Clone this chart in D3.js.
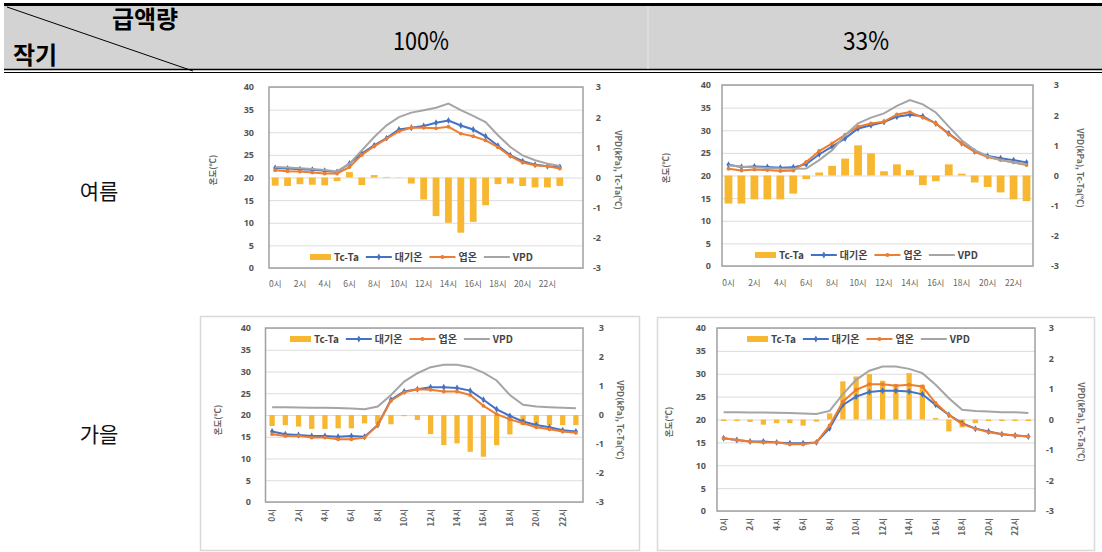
<!DOCTYPE html>
<html>
<head>
<meta charset="utf-8">
<script src="https://cdn.jsdelivr.net/npm/d3@7/dist/d3.min.js"></script>
<style>
  body { margin: 0; background: #fff; }
  svg { display: block; }
</style>
</head>
<body>
<svg id="chart" width="1102" height="552"></svg>
<script>
// categories and tick labels
const hours = ["0시","1시","2시","3시","4시","5시","6시","7시","8시","9시","10시","11시",
               "12시","13시","14시","15시","16시","17시","18시","19시","20시","21시","22시","23시"];
const leftTicks = [0, 5, 10, 15, 20, 25, 30, 35, 40];
const rightTicks = [-3, -2, -1, 0, 1, 2, 3];
const seriesNames = ["Tc-Ta", "대기온", "엽온", "VPD"];
const colHeaders = ["100%", "33%"];
const rowHeaders = ["여름", "가을"];
const leftTitle = "온도(℃)";
const rightTitle = "VPD(kPa), Tc-Ta(℃)";

// 여름 100%
const summer100Tcta = [-0.27,-0.28,-0.22,-0.24,-0.26,-0.12,0.18,-0.25,0.08,0.02,0.01,-0.2,-0.73,-1.28,-1.5,-1.83,-1.47,-0.92,-0.22,-0.2,-0.28,-0.33,-0.33,-0.28];
const summer100Air  = [22.1,22.0,21.8,21.7,21.5,21.2,23.1,25.3,27.1,28.7,30.6,31.0,31.4,32.1,32.6,31.5,30.6,29.1,27.0,24.9,23.6,22.8,22.5,22.3];
const summer100Leaf = [21.6,21.4,21.3,21.1,20.9,20.9,22.3,25.0,26.9,28.6,30.2,31.0,31.0,30.9,31.2,29.7,29.1,28.2,26.7,24.7,23.3,22.7,22.5,22.0];
const summer100Vpd  = [0.35,0.33,0.31,0.28,0.25,0.2,0.46,0.9,1.34,1.73,2.0,2.15,2.23,2.31,2.45,2.23,2.04,1.84,1.4,1.01,0.73,0.57,0.46,0.38];

// 여름 33%
const summer33Tcta = [-0.93,-0.93,-0.79,-0.79,-0.79,-0.6,-0.12,0.1,0.32,0.56,1.0,0.73,0.14,0.37,0.18,-0.32,-0.19,0.37,0.06,-0.23,-0.38,-0.56,-0.79,-0.85];
const summer33Air  = [22.4,21.9,22.0,21.9,21.7,21.8,22.5,24.7,26.4,28.2,30.4,31.1,31.8,33.0,33.4,33.1,31.5,29.3,27.1,25.3,24.3,23.8,23.4,22.9];
const summer33Leaf = [21.5,21.1,21.3,21.2,21.0,21.1,23.0,25.4,27.1,29.0,30.8,31.5,31.9,33.5,34.0,32.8,31.5,29.1,27.1,25.2,24.1,23.4,22.9,22.3];
const summer33Vpd  = [0.34,0.29,0.27,0.25,0.23,0.22,0.23,0.51,0.84,1.34,1.73,1.92,2.06,2.31,2.5,2.36,2.09,1.62,1.17,0.84,0.64,0.51,0.43,0.37];

// 가을 100%
const autumn100Tcta = [-0.38,-0.35,-0.4,-0.48,-0.48,-0.46,-0.46,-0.29,-0.3,-0.32,-0.04,-0.17,-0.66,-1.04,-0.98,-1.27,-1.44,-1.04,-0.67,-0.35,-0.35,-0.35,-0.35,-0.35];
const autumn100Air  = [16.2,15.6,15.4,15.2,15.2,15.0,15.2,15.0,17.7,23.5,25.4,25.9,26.4,26.4,26.2,25.6,23.5,21.3,19.8,18.5,17.7,17.2,16.5,16.2];
const autumn100Leaf = [15.6,15.2,15.2,14.8,14.8,14.4,14.4,14.8,17.7,23.3,25.2,25.9,25.8,25.4,25.4,24.6,22.1,20.2,19.0,18.1,17.2,16.7,16.2,15.9];
const autumn100Vpd  = [0.27,0.27,0.26,0.25,0.25,0.24,0.22,0.2,0.29,0.69,1.15,1.44,1.65,1.73,1.73,1.65,1.46,1.19,0.69,0.35,0.29,0.27,0.25,0.23];

// 가을 33%
const autumn33Tcta = [-0.05,-0.05,-0.08,-0.17,-0.12,-0.12,-0.2,-0.07,0.2,1.25,1.41,1.49,1.27,1.16,1.52,1.14,0.05,-0.39,-0.26,-0.12,-0.05,-0.05,-0.05,-0.05];
const autumn33Air  = [15.9,15.5,15.2,15.2,15.0,14.8,14.8,15.0,18.1,23.2,25.0,26.0,26.3,26.3,26.1,25.5,23.2,21.0,19.2,18.0,17.4,16.8,16.5,16.3];
const autumn33Leaf = [15.9,15.5,15.2,15.0,15.0,14.6,14.6,15.0,18.7,23.9,26.5,27.7,27.7,27.4,27.6,27.2,23.6,21.0,19.0,18.0,17.2,16.8,16.5,16.3];
const autumn33Vpd  = [0.24,0.24,0.23,0.23,0.22,0.21,0.2,0.18,0.28,0.83,1.3,1.6,1.74,1.74,1.66,1.52,1.14,0.7,0.32,0.28,0.26,0.24,0.24,0.21];

const BAR = "#f7b731", AIR = "#4472c4", LEAF = "#ed7d31", VPD = "#a5a5a5";
const FONT = "'Noto Sans CJK KR', 'Open Sans', sans-serif";

const svg = d3.select("#chart");

// ---- table header ----
svg.append("rect").attr("x", 4).attr("y", 5).attr("width", 1098).attr("height", 64).attr("fill", "#d3d3d3");
svg.append("rect").attr("x", 4).attr("y", 3).attr("width", 1098).attr("height", 3).attr("fill", "#000");
svg.append("line").attr("x1", 4).attr("x2", 1102).attr("y1", 69.5).attr("y2", 69.5).attr("stroke", "#000").attr("stroke-width", 1.5);
svg.append("line").attr("x1", 4).attr("x2", 1102).attr("y1", 72.5).attr("y2", 72.5).attr("stroke", "#000").attr("stroke-width", 1);
svg.append("line").attr("x1", 7).attr("y1", 7).attr("x2", 193).attr("y2", 71).attr("stroke", "#000").attr("stroke-width", 1);
svg.append("line").attr("x1", 648).attr("x2", 648).attr("y1", 6).attr("y2", 69).attr("stroke", "#e6e6e6").attr("stroke-width", 1);

svg.append("text").attr("x", 145).attr("y", 28).attr("text-anchor", "middle")
  .attr("font-family", FONT).attr("font-weight", 700).attr("font-size", 24).text("급액량");
svg.append("text").attr("x", 35).attr("y", 64).attr("text-anchor", "middle")
  .attr("font-family", FONT).attr("font-weight", 700).attr("font-size", 24).text("작기");
svg.selectAll(".colhead").data(colHeaders).join("text")
  .attr("class", "colhead")
  .attr("x", (d, i) => [421, 866][i]).attr("y", 50).attr("text-anchor", "middle")
  .attr("font-family", FONT).attr("font-size", 25)
  .attr("textLength", (d, i) => [56, 46][i]).attr("lengthAdjust", "spacingAndGlyphs")
  .text(d => d);
svg.selectAll(".rowhead").data(rowHeaders).join("text")
  .attr("class", "rowhead")
  .attr("x", 99).attr("y", (d, i) => [199, 442][i]).attr("text-anchor", "middle")
  .attr("font-family", FONT).attr("font-size", 21).attr("fill", "#111")
  .text(d => d);

// ---- panel layout ----
const panels = [
  { tcta: summer100Tcta, air: summer100Air, leaf: summer100Leaf, vpd: summer100Vpd,
    l: 269, r: 583, t: 87, b: 268, bandEnd: 566, barFrac: 0.55,
    leftLabelX: 254, rightLabelX: 601, leftTitleX: 216, rightTitleX: 615, titleMid: 170,
    xLabelY: 281, rotate: false, legendX: 310, legendY: 257, box: null },
  { tcta: summer33Tcta, air: summer33Air, leaf: summer33Leaf, vpd: summer33Vpd,
    l: 722, r: 1033, t: 85, b: 266, bandEnd: 1033, barFrac: 0.6,
    leftLabelX: 711, rightLabelX: 1059, leftTitleX: 669, rightTitleX: 1077, titleMid: 168,
    xLabelY: 280, rotate: false, legendX: 755, legendY: 255, box: null },
  { tcta: autumn100Tcta, air: autumn100Air, leaf: autumn100Leaf, vpd: autumn100Vpd,
    l: 265.5, r: 583, t: 328, b: 502, bandEnd: 582.5, barFrac: 0.4,
    leftLabelX: 251, rightLabelX: 604, leftTitleX: 221, rightTitleX: 617, titleMid: 420,
    xLabelY: 509, rotate: true, legendX: 290, legendY: 339, box: [200, 316, 439, 234] },
  { tcta: autumn33Tcta, air: autumn33Air, leaf: autumn33Leaf, vpd: autumn33Vpd,
    l: 717, r: 1035, t: 328, b: 511, bandEnd: 1035, barFrac: 0.4,
    leftLabelX: 706, rightLabelX: 1054, leftTitleX: 672, rightTitleX: 1078, titleMid: 422,
    xLabelY: 518, rotate: true, legendX: 747, legendY: 339, box: [657, 317, 437, 233] }
];

function drawPanel(p) {
  const g = svg.append("g");
  if (p.box) {
    g.append("rect").attr("x", p.box[0] + 0.5).attr("y", p.box[1] + 0.5)
      .attr("width", p.box[2]).attr("height", p.box[3])
      .attr("fill", "#fff").attr("stroke", "#d9d9d9").attr("stroke-width", 1.5);
  }
  const x = d3.scaleBand().domain(hours).range([p.l, p.bandEnd]);
  const yL = d3.scaleLinear().domain([0, 40]).range([p.b, p.t]);
  const yR = d3.scaleLinear().domain([-3, 3]).range([p.b, p.t]);
  const cx = (d, i) => x(hours[i]) + x.bandwidth() / 2;

  // gridlines
  g.append("g").attr("transform", `translate(${p.l},0)`)
    .call(d3.axisLeft(yL).tickValues(leftTicks).tickSize(-(p.r - p.l)).tickFormat(""))
    .call(a => a.select(".domain").remove())
    .selectAll("line").attr("stroke", "#dcdcdc").attr("stroke-width", 1);

  g.append("rect").attr("x", p.l).attr("y", p.t).attr("width", p.r - p.l).attr("height", p.b - p.t)
    .attr("fill", "none").attr("stroke", "#a0a0a0").attr("stroke-width", 1.5);

  // left axis labels
  g.append("g").attr("transform", `translate(${p.leftLabelX},0)`)
    .call(d3.axisLeft(yL).tickValues(leftTicks).tickSize(0).tickPadding(0))
    .call(a => a.select(".domain").remove())
    .selectAll("text").attr("font-family", "'Open Sans', sans-serif").attr("font-size", 9)
    .attr("font-weight", 700).attr("fill", "#555");

  // right axis labels
  g.append("g").attr("transform", `translate(${p.rightLabelX},0)`)
    .call(d3.axisRight(yR).tickValues(rightTicks).tickFormat(d => String(d)).tickSize(0).tickPadding(0))
    .call(a => a.select(".domain").remove())
    .selectAll("text").attr("text-anchor", "end").attr("font-family", "'Open Sans', sans-serif")
    .attr("font-size", 9).attr("font-weight", 700).attr("fill", "#555");

  // axis titles
  g.append("text").attr("transform", `translate(${p.leftTitleX},${p.titleMid}) rotate(-90)`)
    .attr("text-anchor", "middle").attr("font-family", FONT).attr("font-size", 8.5)
    .attr("font-weight", 700).attr("fill", "#666").text(leftTitle);
  g.append("text").attr("transform", `translate(${p.rightTitleX},${p.titleMid}) rotate(90)`)
    .attr("text-anchor", "middle").attr("font-family", FONT).attr("font-size", 8.5)
    .attr("font-weight", 700).attr("fill", "#666").text(rightTitle);

  // Tc-Ta bars on the right axis
  const bw = x.bandwidth() * p.barFrac;
  g.append("g").selectAll("rect").data(p.tcta).join("rect")
    .attr("x", (d, i) => cx(d, i) - bw / 2)
    .attr("width", bw)
    .attr("y", d => yR(Math.max(0, d)))
    .attr("height", d => Math.abs(yR(d) - yR(0)))
    .attr("fill", BAR);

  // lines
  const lineL = d3.line().x(cx).y(d => yL(d));
  const lineR = d3.line().x(cx).y(d => yR(d));
  g.append("path").datum(p.air).attr("d", lineL).attr("fill", "none").attr("stroke", AIR).attr("stroke-width", 2);
  g.append("g").selectAll("path").data(p.air).join("path")
    .attr("transform", (d, i) => `translate(${cx(d, i)},${yL(d)})`)
    .attr("d", d3.symbol(d3.symbolDiamond, 14)).attr("fill", AIR);
  g.append("path").datum(p.leaf).attr("d", lineL).attr("fill", "none").attr("stroke", LEAF).attr("stroke-width", 2);
  g.append("g").selectAll("path").data(p.leaf).join("path")
    .attr("transform", (d, i) => `translate(${cx(d, i)},${yL(d)})`)
    .attr("d", d3.symbol(d3.symbolCircle, 12)).attr("fill", LEAF);
  g.append("path").datum(p.vpd).attr("d", lineR).attr("fill", "none").attr("stroke", VPD).attr("stroke-width", 2);

  // x axis labels
  const xa = g.append("g").attr("transform", `translate(0,${p.xLabelY})`)
    .call(d3.axisBottom(x).tickValues(hours.filter((d, i) => i % 2 === 0)).tickSize(0).tickPadding(0))
    .call(a => a.select(".domain").remove());
  const xt = xa.selectAll("text").attr("font-family", FONT).attr("fill", "#666");
  if (p.rotate) {
    xt.attr("y", 0).attr("x", 0).attr("dy", "0.35em").attr("transform", "rotate(-90)")
      .attr("text-anchor", "end").attr("font-size", 8.5).attr("font-weight", 700);
  } else {
    xt.attr("font-size", 8.5).attr("dy", "0.71em");
  }

  // legend
  const lg = g.append("g").attr("transform", `translate(${p.legendX},${p.legendY})`)
    .attr("font-family", FONT).attr("font-size", 10).attr("font-weight", 700).attr("fill", "#444");
  let pos = 0;
  seriesNames.forEach((name, k) => {
    const sw = k === 0 ? 21 : 26;
    if (k === 0) {
      lg.append("rect").attr("x", pos).attr("y", -3).attr("width", sw).attr("height", 6).attr("fill", BAR);
    } else {
      const col = [null, AIR, LEAF, VPD][k];
      lg.append("line").attr("x1", pos).attr("x2", pos + sw).attr("y1", 0).attr("y2", 0)
        .attr("stroke", col).attr("stroke-width", 2);
      if (k < 3) {
        lg.append("path").attr("transform", `translate(${pos + sw / 2},0)`)
          .attr("d", d3.symbol(k === 1 ? d3.symbolDiamond : d3.symbolCircle, 14)).attr("fill", col);
      }
    }
    const t = lg.append("text").attr("x", pos + sw + 3).attr("y", 0).attr("dy", "0.35em").text(name);
    pos += sw + 3 + t.node().getComputedTextLength() + 7;
  });
}

panels.forEach(drawPanel);
</script>
</body>
</html>
